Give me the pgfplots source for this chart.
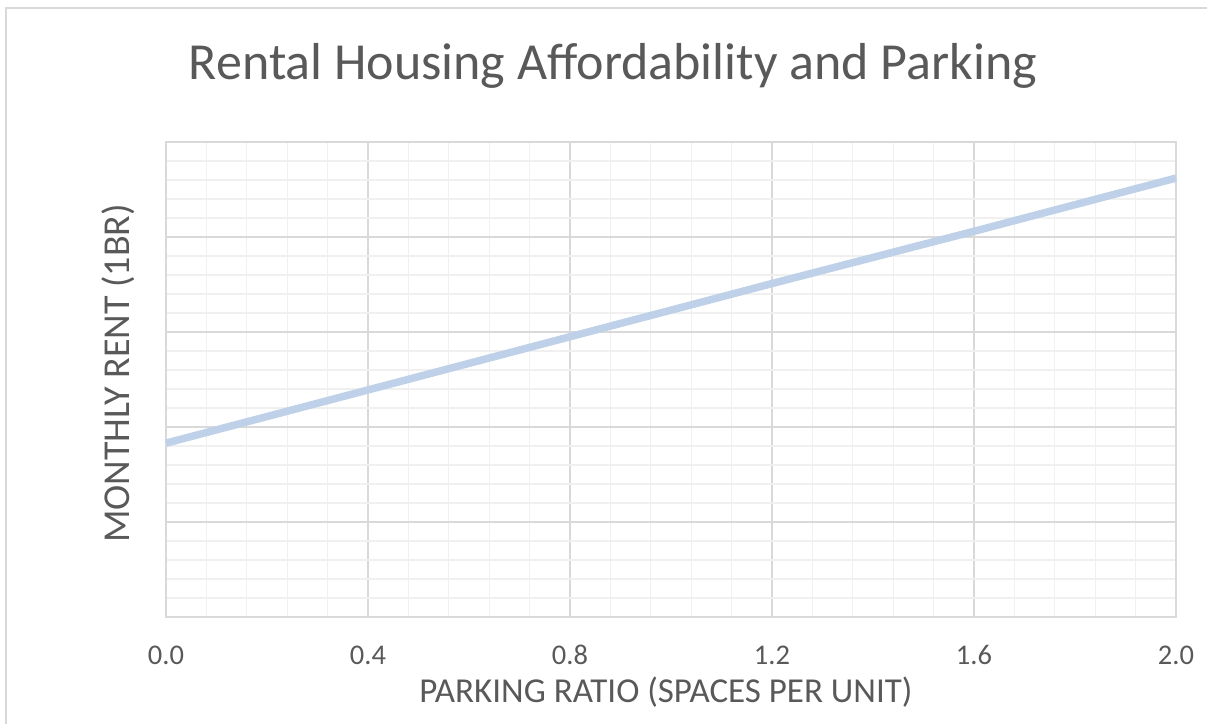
\documentclass[border=0pt]{standalone}
\usepackage{fontspec}
\setmainfont{Carlito}
\usepackage{pgfplots}
\pgfplotsset{compat=1.18}
\definecolor{txt}{RGB}{89,89,89}
\definecolor{majgrid}{RGB}{217,217,217}
\definecolor{mingrid}{RGB}{240,240,240}
\definecolor{linecol}{RGB}{190,209,233}
\begin{document}
\begin{tikzpicture}[x=1pt,y=1pt]
\useasboundingbox (0,0) rectangle (1207,723);
\draw[majgrid, line width=1.5pt] (6,-40) -- (6,715) -- (1260,715);
\node[anchor=base, text=txt, font=\fontsize{52}{60}\selectfont] at (613,643) {Rental Housing Affordability and Parking};
\begin{axis}[
  at={(166pt,106pt)}, anchor=south west,
  scale only axis, width=1010pt, height=475pt,
  xmin=0, xmax=2, ymin=0, ymax=5,
  xtick={0,0.4,0.8,1.2,1.6,2.0},
  xticklabels={0.0,0.4,0.8,1.2,1.6,2.0},
  ytick={0,1,2,3,4,5}, yticklabels={},
  minor x tick num=4, minor y tick num=4,
  major tick length=0pt, minor tick length=0pt,
  grid=both,
  major grid style={majgrid, line width=1.2pt},
  minor grid style={mingrid, line width=1.2pt},
  axis line style={majgrid, line width=1.2pt},
  xticklabel style={anchor=base, yshift=-47pt, text=txt, font=\fontsize{28.5}{32}\selectfont},
  xlabel={PARKING RATIO (SPACES PER UNIT)},
  ylabel={MONTHLY RENT (1BR)},
  xlabel style={at={(axis description cs:0.495,-0.179)}, anchor=base, text=txt, font=\fontsize{35}{40}\selectfont},
  ylabel style={at={(axis description cs:-0.0366,0.5126)}, anchor=base, rotate=0, text=txt, font=\fontsize{38}{42}\selectfont},
  clip=false,
]
\addplot[linecol, line width=7.5pt, no markers] coordinates {
  (0,1.83) (0.4,2.39) (0.8,2.95) (1.2,3.51) (1.6,4.06) (2.0,4.62)
};
\end{axis}
\end{tikzpicture}
\end{document}
